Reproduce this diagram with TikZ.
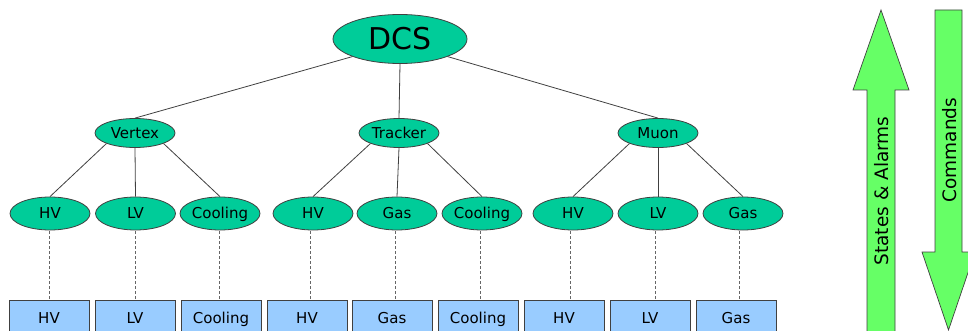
\documentclass[tikz,border=0pt]{standalone}
\usepackage{fontspec}
\setmainfont{DejaVu Sans}
\usetikzlibrary{shapes.geometric}
\definecolor{ellfill}{HTML}{00CC99}
\definecolor{boxfill}{HTML}{99CCFF}
\definecolor{arrfill}{HTML}{66FF66}
\definecolor{edge}{HTML}{404040}
\begin{document}
\begin{tikzpicture}[x=1pt,y=-1pt,
  ell/.style={ellipse, draw=edge, line width=0.8pt, fill=ellfill, inner sep=0pt,
    minimum width=80pt, minimum height=33pt, text height=10.5pt, text depth=0pt,
    font=\fontsize{15}{15}\selectfont},
  midell/.style={ell, minimum height=29pt},
  topell/.style={ell, minimum width=134pt, minimum height=49pt, text height=21.5pt,
    font=\fontsize{30}{30}\selectfont},
  sysbox/.style={rectangle, draw=edge, line width=0.8pt, fill=boxfill, inner sep=0pt,
    minimum width=80pt, minimum height=36pt, text height=10.5pt, text depth=0pt,
    font=\fontsize{15}{15}\selectfont},
  link/.style={draw=edge, line width=0.8pt},
  dlink/.style={draw=edge!80, line width=0.8pt, dash pattern=on 3pt off 2pt},
  bigarrow/.style={draw=edge, line width=0.7pt, fill=arrfill},
  arrtext/.style={rotate=90, font=\fontsize{18.5}{18.5}\selectfont, inner sep=0pt}
]
\useasboundingbox (0,0) rectangle (968,331);

% top
\node[topell] (dcs) at (400,39) {DCS};
% middle
\node[midell] (vtx) at (135,133) {Vertex};
\node[midell] (trk) at (399,133) {Tracker};
\node[midell] (muo) at (658,133) {Muon};
% lower
\node[ell] (vhv)  at (50,213.5)  {HV};
\node[ell] (vlv)  at (135.5,213.5) {LV};
\node[ell] (vco)  at (220,213.5) {Cooling};
\node[ell] (thv)  at (313,213.5) {HV};
\node[ell] (tgas) at (397,213.5) {Gas};
\node[ell] (tco)  at (482,213.5) {Cooling};
\node[ell] (mhv)  at (573,213.5) {HV};
\node[ell] (mlv)  at (658,213.5) {LV};
\node[ell] (mgas) at (743,213.5) {Gas};
% boxes
\node[sysbox] (bvhv)  at (49,318)  {HV};
\node[sysbox] (bvlv)  at (135,318) {LV};
\node[sysbox] (bvco)  at (221,318) {Cooling};
\node[sysbox] (bthv)  at (307,318) {HV};
\node[sysbox] (btgas) at (392,318) {Gas};
\node[sysbox] (btco)  at (478,318) {Cooling};
\node[sysbox] (bmhv)  at (564,318) {HV};
\node[sysbox] (bmlv)  at (650,318) {LV};
\node[sysbox] (bmgas) at (736,318) {Gas};

% links
\draw[link] (dcs.south west) -- (vtx.north);
\draw[link] (dcs.south) -- (trk.north);
\draw[link] (dcs.south east) -- (muo.north);
\foreach \p/\a/\b/\c in {vtx/vhv/vlv/vco, trk/thv/tgas/tco, muo/mhv/mlv/mgas}{
  \draw[link] (\p.south west) -- (\a.north);
  \draw[link] (\p.south) -- (\b.north);
  \draw[link] (\p.south east) -- (\c.north);
}
% dashed
\foreach \e/\bx/\xx in {vhv/bvhv/49, vlv/bvlv/135, vco/bvco/219, thv/bthv/310, tgas/btgas/395, tco/btco/480, mhv/bmhv/570, mlv/bmlv/655, mgas/bmgas/739}{
  \coordinate (t\e) at (\xx,231);
  \coordinate (b\e) at (\xx,300);
  \draw[dlink] (t\e) -- (b\e);
}

% big arrows
\draw[bigarrow] (867,345) -- (867,90) -- (853,90) -- (881,10) -- (909,90) -- (895,90) -- (895,345) -- cycle;
\draw[bigarrow] (935,10) -- (962,10) -- (962,252) -- (975,252) -- (948.5,330) -- (922,252) -- (935,252) -- cycle;
\node[arrtext] (sa) at (882,191) {States \& Alarms};
\node[arrtext] (cm) at (950,150) {Commands};
\end{tikzpicture}
\end{document}
